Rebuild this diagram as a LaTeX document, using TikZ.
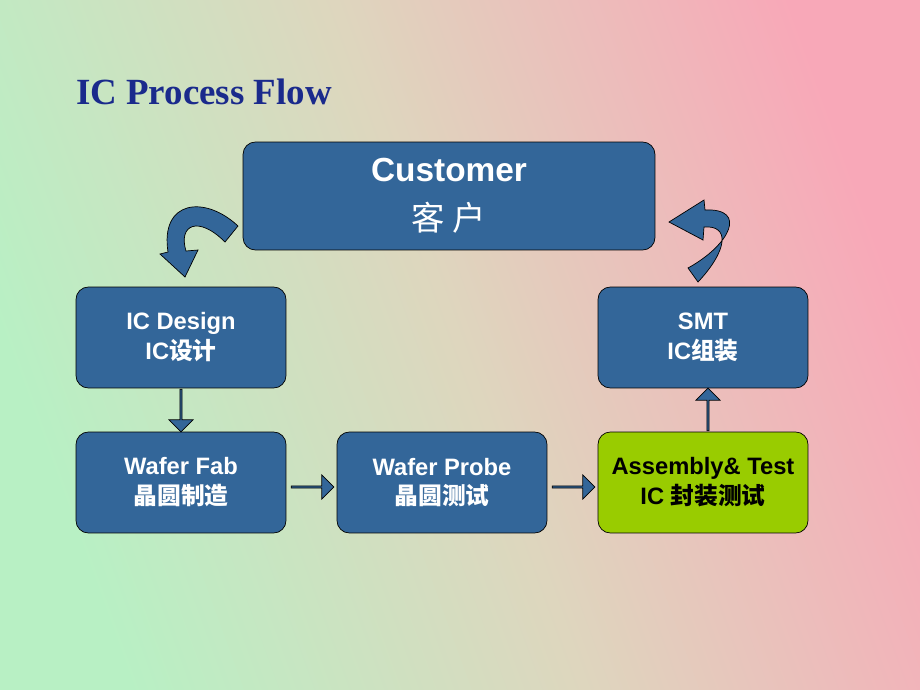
\documentclass[tikz,border=0pt]{standalone}
\usepackage{fontspec}
\setmainfont{Liberation Serif}
\newfontfamily\sansf{Liberation Sans}
\newfontfamily\cjk{Noto Sans CJK SC}
\usetikzlibrary{shapes.arrows}
\definecolor{boxblue}{HTML}{336699}
\definecolor{boxgreen}{HTML}{99CC00}
\definecolor{titleblue}{HTML}{1A2A8C}
\tikzset{
 flowbox/.style={draw=black,fill=boxblue,rounded corners=7pt,minimum width=4.2cm,minimum height=2.02cm,
   text=white,align=center,font=\sansf\bfseries\fontsize{13.5}{17}\selectfont},
 blockarrow/.style={single arrow,draw=black,fill=boxblue,minimum height=0.85cm,minimum width=0.48cm,
   single arrow head extend=0.1cm,inner sep=0pt,shape border uses incircle},
 curvearrow/.style={draw=black,fill=boxblue}
}
\begin{document}
\begin{tikzpicture}[x=0.02cm,y=-0.02cm]
\useasboundingbox (0,0) rectangle (920,690);
\shade[shading=axis,left color={rgb,255:red,184;green,240;blue,196},right color={rgb,255:red,248;green,168;blue,184},
  middle color={rgb,255:red,222;green,214;blue,190},shading angle=110] (0,0) rectangle (920,690);

\node[anchor=base west,text=titleblue,font=\bfseries\fontsize{21}{25}\selectfont] (title) at (70,104) {IC Process Flow};

\node[flowbox,minimum width=8.24cm,minimum height=2.16cm,font=\sansf\bfseries\fontsize{19}{28}\selectfont] (cust) at (449,196) {Customer\\{\cjk\mdseries 客\ 户}};
\node[flowbox] (design) at (181,337.5) {IC Design\\IC{\cjk 设计}};
\node[flowbox] (smt) at (703,337.5) {SMT\\IC{\cjk 组装}};
\node[flowbox] (fab) at (181,482.5) {Wafer Fab\\{\cjk 晶圆制造}};
\node[flowbox] (probe) at (442,482.5) {Wafer Probe\\{\cjk 晶圆测试}};
\node[flowbox,fill=boxgreen,text=black] (asm) at (703,482.5) {Assembly\& Test\\IC {\cjk 封装测试}};

% block arrows
\node[blockarrow,rotate=-90] (a1) at (181,410) {};
\node[blockarrow] (a2) at (312,487) {};
\node[blockarrow] (a3) at (573,487) {};
\node[blockarrow,rotate=90] (a4) at (708,410) {};

% curved arrows
\draw[curvearrow] (238,226) .. controls (205,195) and (160,200) .. (168,252) -- (160,254) -- (185,277)
  -- (198,250) -- (186,251) .. controls (178,225) and (198,215) .. (225,242) -- cycle;
\draw[curvearrow] (688,268) .. controls (730,245) and (748,208) .. (705,210) -- (704,200) -- (669,222)
  -- (703,240) -- (704,227) .. controls (730,225) and (728,250) .. (698,282) -- cycle;
\end{tikzpicture}
\end{document}
